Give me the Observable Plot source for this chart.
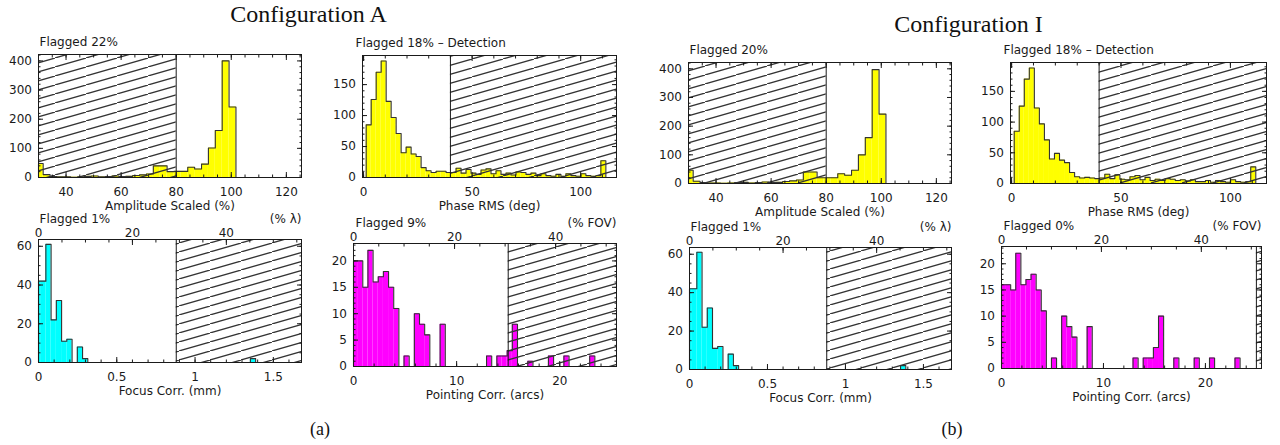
<!DOCTYPE html>
<html><head><meta charset="utf-8">
<script src="https://cdn.jsdelivr.net/npm/d3@7"></script>
<script src="https://cdn.jsdelivr.net/npm/@observablehq/plot@0.6"></script>
<style>
html,body{margin:0;padding:0;background:#fff;}
#page{position:relative;width:1280px;height:445px;overflow:hidden;background:#fff;}
.title{position:absolute;font-family:"Liberation Serif",serif;font-size:24px;line-height:24px;color:#111;white-space:nowrap;transform:translateX(-50%);}
.cap{position:absolute;font-family:"Liberation Serif",serif;font-size:18px;line-height:18px;color:#111;white-space:nowrap;transform:translateX(-50%);}
</style></head><body><div id="page"></div>
<script>
// ---------------- data ----------------
const titles = ["Configuration A", "Configuration I"];
const captions = ["(a)", "(b)"];
const flaggedA = ["Flagged 22%", "Flagged 18% – Detection", "Flagged 1%", "Flagged 9%"];
const flaggedI = ["Flagged 20%", "Flagged 18% – Detection", "Flagged 1%", "Flagged 0%"];
const xLabels = ["Amplitude Scaled (%)", "Phase RMS (deg)", "Focus Corr. (mm)", "Pointing Corr. (arcs)"];
const topUnits = ["(% λ)", "(% FOV)"];

// Amplitude histogram (bin start, bin width, counts)
const ampBinStart = 29.2, ampBinWidth = 2.5;
const ampCountsA = [48,10,3,2,2,1,2,4,5,2,3,5,3,4,7,9,12,40,40,20,21,21,35,29,46,101,161,400,242];
const ampCountsI = [46,8,3,2,2,1,2,3,4,2,3,5,3,4,7,9,12,40,40,20,20,20,34,29,46,100,160,397,242];
const ampThreshold = 80;

// Phase RMS histogram
const phaseBinStart = 1.2, phaseBinWidth = 2.3;
const phaseCountsA = [85,126,170,188,123,97,71,40,49,38,34,16,11,8,10,10,8,
  8,15,7,13,7,5,12,14,6,11,5,7,4,9,8,5,7,3,6,3,2,5,2,6,3,2,6,3,2,3,27];
const phaseCountsI = [85,126,170,188,123,97,71,40,49,38,34,18,11,9,10,9,8,
  9,15,8,14,7,6,11,13,6,10,5,7,5,8,7,5,6,4,6,3,3,5,2,5,3,2,6,3,2,3,27];
const phaseThreshold = 40;

// Focus correction histogram
const focusBinStart = -0.02, focusBinWidth = 0.0335;
const focusCountsA = [42,42,61,22,32,11,12,0,8,2,
  0,0,0,0,0,0,0,0,0,0,0,0,0,0,0,0,0,0,0,0,0,0,0,0,0,0,0,0,0,0,0,2];
const focusCountsI = [42,42,61,22,32,11,12,0,8,2,
  0,0,0,0,0,0,0,0,0,0,0,0,0,0,0,0,0,0,0,0,0,0,0,0,0,0,0,0,0,0,0,2];
const focusThreshold = 0.88;
const lambdaMM = 3;

// Pointing correction histogram
const pointBinStart = -0.1, pointBinWidth = 0.5;
const pointCountsA = [20,20,15,22,16,17,18,15,11,0,2,0,10,8,6,0,0,8,0,0,0,0,0,0,0,0,2,0,2,2,3,8,0,0,1,0,0,0,2,0,0,2,0,0,0,0,2];
const pointCountsI = [16,16,15,22,16,17,18,15,11,0,2,0,10,8,6,0,0,8,0,0,0,0,0,0,0,0,2,0,2,2,4,10,0,0,2,0,0,0,2,0,0,2,0,0,0,0,2];
const pointThresholdA = 15, pointThresholdI = 25;
const fovArcsec = 49;

// tick labels
const ampTicks = [40,60,80,100,120];
const phaseTicks = [0,50,100];
const focusTicks = [0,0.5,1,1.5];
const pointTicks = [0,10,20];
const topPctTicks = [0,20,40];
const ampYTicks = [0,100,200,300,400];
const phaseYTicks = [0,50,100,150];
const focusYTicks = [0,20,40,60];
const pointYTicks = [0,5,10,15,20];

// ---------------- layout ----------------
const page = document.getElementById("page");
function addText(cls, txt, cx, top) {
  const d = document.createElement("div");
  d.className = cls; d.textContent = txt;
  d.style.left = cx + "px"; d.style.top = top + "px";
  page.appendChild(d);
}
addText("title", titles[0], 308.5, 2);
addText("title", titles[1], 968.5, 12);
addText("cap", captions[0], 320, 420);
addText("cap", captions[1], 952, 420);

const ampX = [30,125.5], phaseX = [-0.5,116.5], focusX = [0,1.68], pointX = [0,25.5];
const ampY = [0,422], phaseY = [0,197], focusY = [0,63.5], pointY = [0,23.3];

const common = {
  amp: {xDomain: ampX, yDomain: ampY, start: ampBinStart, width: ampBinWidth, fill: "#ffff00",
        xMajor: ampTicks, xMinor: d3.range(30,126,5), yMajor: ampYTicks, yMinor: d3.range(0,421,20),
        xlabel: xLabels[0], flagDx: 1, flagDy: 8.5},
  phase: {xDomain: phaseX, yDomain: phaseY, start: phaseBinStart, width: phaseBinWidth, fill: "#ffff00",
        xMajor: phaseTicks, xMinor: d3.range(0,111,10), yMajor: phaseYTicks, yMinor: d3.range(0,191,10),
        xlabel: xLabels[1], flagDx: -7, flagDy: 8.5},
  focus: {xDomain: focusX, yDomain: focusY, start: focusBinStart, width: focusBinWidth, fill: "#00ffff",
        xMajor: focusTicks, xMinor: d3.range(0,1.65,0.1), yMajor: focusYTicks, yMinor: d3.range(0,61,5),
        xlabel: xLabels[2], flagDx: 1, flagDy: 16.5,
        top: {unit: topUnits[0], toX: p => p / 100 * lambdaMM, major: topPctTicks, minor: d3.range(0,56,5)}},
  point: {xDomain: pointX, yDomain: pointY, start: pointBinStart, width: pointBinWidth, fill: "#ff00ff",
        xMajor: pointTicks, xMinor: d3.range(0,25,2), yMajor: pointYTicks, yMinor: d3.range(0,24,1),
        xlabel: xLabels[3], flagDx: 2, flagDy: 16.5,
        top: {unit: topUnits[1], toX: p => p / 100 * fovArcsec, major: topPctTicks, minor: d3.range(0,51,5)}}
};

const panels = [
  {...common.amp, frame: [38,301,54,177], counts: ampCountsA, hatch: [ampX[0], ampThreshold], threshold: ampThreshold, flagged: flaggedA[0]},
  {...common.phase, frame: [362,616,55,177], counts: phaseCountsA, hatch: [phaseThreshold, phaseX[1]], threshold: phaseThreshold, flagged: flaggedA[1]},
  {...common.focus, frame: [38,301,239,362], counts: focusCountsA, hatch: [focusThreshold, focusX[1]], threshold: focusThreshold, flagged: flaggedA[2]},
  {...common.point, frame: [353,616,243,366], counts: pointCountsA, hatch: [pointThresholdA, pointX[1]], threshold: pointThresholdA, flagged: flaggedA[3]},
  {...common.amp, frame: [688,951,62,183], counts: ampCountsI, hatch: [ampX[0], ampThreshold], threshold: ampThreshold, flagged: flaggedI[0]},
  {...common.phase, frame: [1010,1266,62,183], counts: phaseCountsI, hatch: [phaseThreshold, phaseX[1]], threshold: phaseThreshold, flagged: flaggedI[1]},
  {...common.focus, frame: [689,951,247,369], counts: focusCountsI, hatch: [focusThreshold, focusX[1]], threshold: focusThreshold, flagged: flaggedI[2]},
  {...common.point, frame: [1001,1261,246,368], counts: pointCountsI, hatch: [pointThresholdI, pointX[1]], threshold: pointThresholdI, flagged: flaggedI[3]}
];

const ink = "#1a1a1a";
const fmt = d => String(+d.toFixed(2));

panels.forEach((p, idx) => {
  const [L, R, T, B] = p.frame;
  const mL = 45, mR = 15, mT = 32, mB = 42;
  const cx = v => Math.max(p.xDomain[0], Math.min(p.xDomain[1], v));
  const bins = p.counts.map((c, i) => ({x1: cx(p.start + i * p.width), x2: cx(p.start + (i + 1) * p.width), n: c}));
  const pts = [{x: bins[0].x1, y: 0}];
  for (const b of bins) { pts.push({x: b.x1, y: b.n}); pts.push({x: b.x2, y: b.n}); }
  pts.push({x: bins[bins.length - 1].x2, y: 0});
  const hid = "hatchpat" + idx;
  const tickOpts = (anchor, size) => ({anchor, tickSize: size, fill: "none", label: null, stroke: ink});
  const marks = [
    Plot.rect(bins.filter(b => b.n > 0), {x1: "x1", x2: "x2", y1: () => 0, y2: "n", fill: p.fill}),
    Plot.rect([p.hatch], {x1: d => d[0], x2: d => d[1], y1: () => p.yDomain[0], y2: () => p.yDomain[1], fill: `url(#${hid})`}),
    Plot.line(pts, {x: "x", y: "y", stroke: "#333", strokeWidth: 1.1}),
    Plot.ruleX([p.threshold], {stroke: ink, strokeWidth: 1}),
    Plot.frame({stroke: ink}),
    Plot.axisX(p.xMajor, tickOpts("bottom", -5)),
    Plot.axisX(p.xMinor, tickOpts("bottom", -2.5)),
    Plot.axisY(p.yMajor, tickOpts("left", -5)),
    Plot.axisY(p.yMinor, tickOpts("left", -2.5)),
    Plot.axisY(p.yMajor, tickOpts("right", -5)),
    Plot.axisY(p.yMinor, tickOpts("right", -2.5)),
    Plot.axisX(p.xMajor, {anchor: "bottom", tickSize: 0, tickPadding: 9.5, tickFormat: fmt, label: null, fill: ink}),
    Plot.axisY(p.yMajor, {anchor: "left", tickSize: 0, tickPadding: 6.5, tickFormat: fmt, label: null, fill: ink}),
    Plot.text([p.xlabel], {text: d => d, frameAnchor: "bottom", dy: 32, lineAnchor: "bottom", fill: ink}),
    Plot.text([p.flagged], {text: d => d, frameAnchor: "top-left", dx: p.flagDx, dy: -p.flagDy, textAnchor: "start", lineAnchor: "bottom", fill: ink})
  ];
  if (p.top) {
    marks.push(
      Plot.axisX(p.top.major.map(p.top.toX), tickOpts("top", -5)),
      Plot.axisX(p.top.minor.map(p.top.toX), tickOpts("top", -2.5)),
      Plot.axisX(p.top.major.map(p.top.toX), {anchor: "top", tickSize: 0, tickPadding: 2.5, label: null, fill: ink,
        tickFormat: (d, i) => String(p.top.major[i])}),
      Plot.text([p.top.unit], {text: d => d, frameAnchor: "top-right", dy: -p.flagDy, textAnchor: "end", lineAnchor: "bottom", fill: ink})
    );
  } else {
    marks.push(
      Plot.axisX(p.xMajor, tickOpts("top", -5)),
      Plot.axisX(p.xMinor, tickOpts("top", -2.5))
    );
  }
  const svg = Plot.plot({
    width: R - L + mL + mR,
    height: B - T + mT + mB,
    marginLeft: mL, marginRight: mR, marginTop: mT, marginBottom: mB,
    x: {domain: p.xDomain},
    y: {domain: p.yDomain},
    style: {fontFamily: "DejaVu Sans, sans-serif", fontSize: "12px", color: ink, background: "transparent", overflow: "visible"},
    marks
  });
  // diagonal hatch tile: rise 9px over 31px
  const tw = 31, th = 9;
  const defs = d3.select(svg).insert("defs", ":first-child");
  const pat = defs.append("pattern").attr("id", hid).attr("patternUnits", "userSpaceOnUse")
    .attr("x", 0).attr("y", 0).attr("width", tw).attr("height", th);
  pat.append("path")
    .attr("d", `M0,${th} L${tw},0 M${-tw},${2 * th} L0,${th} M${tw},0 L${2 * tw},${-th}`)
    .attr("stroke", "#333").attr("stroke-width", 1.25).attr("fill", "none");
  svg.style.position = "absolute";
  svg.style.left = (L - mL) + "px";
  svg.style.top = (T - mT) + "px";
  page.appendChild(svg);
});
</script></body></html>
